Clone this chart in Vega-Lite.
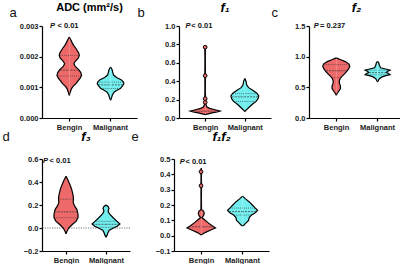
{
  "$schema": "https://vega.github.io/schema/vega-lite/v6.json",
  "background": "white",
  "padding": {"left": 2, "top": 2, "right": 0, "bottom": 0},
  "config": {
    "font": "Liberation Sans",
    "view": {"stroke": null},
    "axis": {"grid": false, "domainColor": "black", "domainWidth": 1.2, "tickColor": "black", "tickWidth": 1.2, "tickSize": 3, "labelFont": "Liberation Sans", "labelFontWeight": "bold", "labelFontSize": 7.5, "labelColor": "#222"},
    "axisX": {"labelAngle": 0, "labelPadding": 2, "title": null},
    "axisY": {"labelPadding": 1, "titleAngle": 0, "titleAlign": "left", "titleBaseline": "alphabetic", "titleFontSize": 13, "titleFontWeight": "normal", "titleColor": "#111", "titleFont": "Liberation Sans"},
    "title": {"font": "Liberation Sans", "fontSize": 11, "fontWeight": "bold", "anchor": "middle", "frame": "group", "offset": 0, "baseline": "alphabetic", "color": "black"},
    "area": {"orient": "horizontal"},
    "line": {"color": "black", "strokeWidth": 1.2}
  },
  "datasets": {
    "a": [
      {"kind": "v", "group": "Bengin", "value": 0.00264, "density": 0},
      {"kind": "v", "group": "Bengin", "value": 0.00255, "density": 0.1},
      {"kind": "v", "group": "Bengin", "value": 0.00245, "density": 0.2},
      {"kind": "v", "group": "Bengin", "value": 0.00237, "density": 0.29},
      {"kind": "v", "group": "Bengin", "value": 0.00225, "density": 0.47},
      {"kind": "v", "group": "Bengin", "value": 0.00212, "density": 0.63},
      {"kind": "v", "group": "Bengin", "value": 0.00204, "density": 0.67},
      {"kind": "v", "group": "Bengin", "value": 0.00195, "density": 0.6},
      {"kind": "v", "group": "Bengin", "value": 0.00185, "density": 0.4},
      {"kind": "v", "group": "Bengin", "value": 0.00177, "density": 0.31},
      {"kind": "v", "group": "Bengin", "value": 0.00168, "density": 0.4},
      {"kind": "v", "group": "Bengin", "value": 0.00158, "density": 0.63},
      {"kind": "v", "group": "Bengin", "value": 0.00148, "density": 0.77},
      {"kind": "v", "group": "Bengin", "value": 0.00139, "density": 0.82},
      {"kind": "v", "group": "Bengin", "value": 0.0013, "density": 0.73},
      {"kind": "v", "group": "Bengin", "value": 0.0012, "density": 0.57},
      {"kind": "v", "group": "Bengin", "value": 0.00112, "density": 0.45},
      {"kind": "v", "group": "Bengin", "value": 0.00104, "density": 0.27},
      {"kind": "v", "group": "Bengin", "value": 0.00096, "density": 0.15},
      {"kind": "v", "group": "Bengin", "value": 0.00085, "density": 0.07},
      {"kind": "v", "group": "Bengin", "value": 0.00074, "density": 0},
      {"kind": "q", "group": "Bengin", "value": 0.00204, "density": 0.62},
      {"kind": "m", "group": "Bengin", "value": 0.00156, "density": 0.62},
      {"kind": "q", "group": "Bengin", "value": 0.00137, "density": 0.78},
      {"kind": "v", "group": "Malignant", "value": 0.00166, "density": 0},
      {"kind": "v", "group": "Malignant", "value": 0.00158, "density": 0.1},
      {"kind": "v", "group": "Malignant", "value": 0.00148, "density": 0.15},
      {"kind": "v", "group": "Malignant", "value": 0.0014, "density": 0.2},
      {"kind": "v", "group": "Malignant", "value": 0.00132, "density": 0.4},
      {"kind": "v", "group": "Malignant", "value": 0.00125, "density": 0.7},
      {"kind": "v", "group": "Malignant", "value": 0.00118, "density": 0.85},
      {"kind": "v", "group": "Malignant", "value": 0.00112, "density": 0.89},
      {"kind": "v", "group": "Malignant", "value": 0.00105, "density": 0.8},
      {"kind": "v", "group": "Malignant", "value": 0.00096, "density": 0.65},
      {"kind": "v", "group": "Malignant", "value": 0.0009, "density": 0.4},
      {"kind": "v", "group": "Malignant", "value": 0.00085, "density": 0.25},
      {"kind": "v", "group": "Malignant", "value": 0.00075, "density": 0.12},
      {"kind": "v", "group": "Malignant", "value": 0.00065, "density": 0.06},
      {"kind": "v", "group": "Malignant", "value": 0.00058, "density": 0},
      {"kind": "q", "group": "Malignant", "value": 0.00117, "density": 0.82},
      {"kind": "m", "group": "Malignant", "value": 0.00108, "density": 0.82},
      {"kind": "q", "group": "Malignant", "value": 0.00096, "density": 0.62},
      {"kind": "t", "group": "Bengin", "value": 0.003, "label": "< 0.01"}
    ],
    "b": [
      {"kind": "v", "group": "Bengin", "value": 0.79, "density": 0},
      {"kind": "v", "group": "Bengin", "value": 0.77, "density": 0.02},
      {"kind": "v", "group": "Bengin", "value": 0.6, "density": 0.01},
      {"kind": "v", "group": "Bengin", "value": 0.46, "density": 0.02},
      {"kind": "v", "group": "Bengin", "value": 0.3, "density": 0.01},
      {"kind": "v", "group": "Bengin", "value": 0.21, "density": 0.03},
      {"kind": "v", "group": "Bengin", "value": 0.17, "density": 0.03},
      {"kind": "v", "group": "Bengin", "value": 0.14, "density": 0.06},
      {"kind": "v", "group": "Bengin", "value": 0.12, "density": 0.12},
      {"kind": "v", "group": "Bengin", "value": 0.105, "density": 0.3},
      {"kind": "v", "group": "Bengin", "value": 0.09, "density": 0.65},
      {"kind": "v", "group": "Bengin", "value": 0.075, "density": 1.0},
      {"kind": "v", "group": "Bengin", "value": 0.065, "density": 0.8},
      {"kind": "v", "group": "Bengin", "value": 0.055, "density": 0.45},
      {"kind": "v", "group": "Bengin", "value": 0.045, "density": 0.2},
      {"kind": "v", "group": "Bengin", "value": 0.036, "density": 0},
      {"kind": "p", "group": "Bengin", "value": 0.77},
      {"kind": "p", "group": "Bengin", "value": 0.46},
      {"kind": "p", "group": "Bengin", "value": 0.21},
      {"kind": "p", "group": "Bengin", "value": 0.17},
      {"kind": "m", "group": "Bengin", "value": 0.074, "density": 0.9},
      {"kind": "v", "group": "Malignant", "value": 0.43, "density": 0},
      {"kind": "v", "group": "Malignant", "value": 0.4, "density": 0.08},
      {"kind": "v", "group": "Malignant", "value": 0.36, "density": 0.12},
      {"kind": "v", "group": "Malignant", "value": 0.33, "density": 0.25},
      {"kind": "v", "group": "Malignant", "value": 0.3, "density": 0.55},
      {"kind": "v", "group": "Malignant", "value": 0.27, "density": 0.8},
      {"kind": "v", "group": "Malignant", "value": 0.24, "density": 0.93},
      {"kind": "v", "group": "Malignant", "value": 0.21, "density": 0.88},
      {"kind": "v", "group": "Malignant", "value": 0.18, "density": 0.75},
      {"kind": "v", "group": "Malignant", "value": 0.15, "density": 0.5},
      {"kind": "v", "group": "Malignant", "value": 0.12, "density": 0.3},
      {"kind": "v", "group": "Malignant", "value": 0.1, "density": 0.18},
      {"kind": "v", "group": "Malignant", "value": 0.08, "density": 0.05},
      {"kind": "v", "group": "Malignant", "value": 0.07, "density": 0},
      {"kind": "q", "group": "Malignant", "value": 0.265, "density": 0.78},
      {"kind": "m", "group": "Malignant", "value": 0.23, "density": 0.88},
      {"kind": "q", "group": "Malignant", "value": 0.18, "density": 0.72},
      {"kind": "t", "group": "Bengin", "value": 1.0, "label": "< 0.01"}
    ],
    "c": [
      {"kind": "v", "group": "Bengin", "value": 0.98, "density": 0},
      {"kind": "v", "group": "Bengin", "value": 0.95, "density": 0.3},
      {"kind": "v", "group": "Bengin", "value": 0.92, "density": 0.6},
      {"kind": "v", "group": "Bengin", "value": 0.88, "density": 0.85},
      {"kind": "v", "group": "Bengin", "value": 0.84, "density": 0.9},
      {"kind": "v", "group": "Bengin", "value": 0.8, "density": 0.82},
      {"kind": "v", "group": "Bengin", "value": 0.76, "density": 0.7},
      {"kind": "v", "group": "Bengin", "value": 0.72, "density": 0.55},
      {"kind": "v", "group": "Bengin", "value": 0.68, "density": 0.38},
      {"kind": "v", "group": "Bengin", "value": 0.64, "density": 0.25},
      {"kind": "v", "group": "Bengin", "value": 0.6, "density": 0.2},
      {"kind": "v", "group": "Bengin", "value": 0.56, "density": 0.22},
      {"kind": "v", "group": "Bengin", "value": 0.52, "density": 0.28},
      {"kind": "v", "group": "Bengin", "value": 0.48, "density": 0.28},
      {"kind": "v", "group": "Bengin", "value": 0.44, "density": 0.18},
      {"kind": "v", "group": "Bengin", "value": 0.4, "density": 0.06},
      {"kind": "v", "group": "Bengin", "value": 0.37, "density": 0},
      {"kind": "q", "group": "Bengin", "value": 0.87, "density": 0.84},
      {"kind": "m", "group": "Bengin", "value": 0.77, "density": 0.68},
      {"kind": "q", "group": "Bengin", "value": 0.66, "density": 0.3},
      {"kind": "v", "group": "Malignant", "value": 0.925, "density": 0},
      {"kind": "v", "group": "Malignant", "value": 0.9, "density": 0.08},
      {"kind": "v", "group": "Malignant", "value": 0.86, "density": 0.12},
      {"kind": "v", "group": "Malignant", "value": 0.82, "density": 0.2},
      {"kind": "v", "group": "Malignant", "value": 0.795, "density": 0.6},
      {"kind": "v", "group": "Malignant", "value": 0.78, "density": 0.83},
      {"kind": "v", "group": "Malignant", "value": 0.76, "density": 0.65},
      {"kind": "v", "group": "Malignant", "value": 0.74, "density": 0.6},
      {"kind": "v", "group": "Malignant", "value": 0.72, "density": 0.75},
      {"kind": "v", "group": "Malignant", "value": 0.705, "density": 0.83},
      {"kind": "v", "group": "Malignant", "value": 0.69, "density": 0.55},
      {"kind": "v", "group": "Malignant", "value": 0.67, "density": 0.3},
      {"kind": "v", "group": "Malignant", "value": 0.64, "density": 0.12},
      {"kind": "v", "group": "Malignant", "value": 0.61, "density": 0.05},
      {"kind": "v", "group": "Malignant", "value": 0.59, "density": 0},
      {"kind": "q", "group": "Malignant", "value": 0.78, "density": 0.8},
      {"kind": "m", "group": "Malignant", "value": 0.74, "density": 0.58},
      {"kind": "q", "group": "Malignant", "value": 0.705, "density": 0.8},
      {"kind": "t", "group": "Bengin", "value": 1.5, "label": "= 0.237"}
    ],
    "d": [
      {"kind": "v", "group": "Bengin", "value": 0.45, "density": 0},
      {"kind": "v", "group": "Bengin", "value": 0.42, "density": 0.12},
      {"kind": "v", "group": "Bengin", "value": 0.38, "density": 0.25},
      {"kind": "v", "group": "Bengin", "value": 0.34, "density": 0.37},
      {"kind": "v", "group": "Bengin", "value": 0.3, "density": 0.45},
      {"kind": "v", "group": "Bengin", "value": 0.26, "density": 0.5},
      {"kind": "v", "group": "Bengin", "value": 0.22, "density": 0.48},
      {"kind": "v", "group": "Bengin", "value": 0.19, "density": 0.58},
      {"kind": "v", "group": "Bengin", "value": 0.16, "density": 0.73},
      {"kind": "v", "group": "Bengin", "value": 0.12, "density": 0.8},
      {"kind": "v", "group": "Bengin", "value": 0.09, "density": 0.8},
      {"kind": "v", "group": "Bengin", "value": 0.06, "density": 0.68},
      {"kind": "v", "group": "Bengin", "value": 0.03, "density": 0.42},
      {"kind": "v", "group": "Bengin", "value": 0.0, "density": 0.18},
      {"kind": "v", "group": "Bengin", "value": -0.03, "density": 0.06},
      {"kind": "v", "group": "Bengin", "value": -0.05, "density": 0},
      {"kind": "q", "group": "Bengin", "value": 0.25, "density": 0.48},
      {"kind": "m", "group": "Bengin", "value": 0.14, "density": 0.75},
      {"kind": "q", "group": "Bengin", "value": 0.09, "density": 0.78},
      {"kind": "v", "group": "Malignant", "value": 0.2, "density": 0},
      {"kind": "v", "group": "Malignant", "value": 0.185, "density": 0.15},
      {"kind": "v", "group": "Malignant", "value": 0.17, "density": 0.2},
      {"kind": "v", "group": "Malignant", "value": 0.155, "density": 0.15},
      {"kind": "v", "group": "Malignant", "value": 0.14, "density": 0.15},
      {"kind": "v", "group": "Malignant", "value": 0.12, "density": 0.25},
      {"kind": "v", "group": "Malignant", "value": 0.1, "density": 0.4},
      {"kind": "v", "group": "Malignant", "value": 0.08, "density": 0.55},
      {"kind": "v", "group": "Malignant", "value": 0.06, "density": 0.72},
      {"kind": "v", "group": "Malignant", "value": 0.035, "density": 0.93},
      {"kind": "v", "group": "Malignant", "value": 0.015, "density": 0.75},
      {"kind": "v", "group": "Malignant", "value": 0.0, "density": 0.5},
      {"kind": "v", "group": "Malignant", "value": -0.02, "density": 0.22},
      {"kind": "v", "group": "Malignant", "value": -0.04, "density": 0.13},
      {"kind": "v", "group": "Malignant", "value": -0.06, "density": 0.08},
      {"kind": "v", "group": "Malignant", "value": -0.08, "density": 0},
      {"kind": "q", "group": "Malignant", "value": 0.058, "density": 0.7},
      {"kind": "m", "group": "Malignant", "value": 0.032, "density": 0.9},
      {"kind": "q", "group": "Malignant", "value": 0.006, "density": 0.62},
      {"kind": "t", "group": "Bengin", "value": 0.6, "label": "< 0.01"}
    ],
    "e": [
      {"kind": "v", "group": "Bengin", "value": 0.44, "density": 0},
      {"kind": "v", "group": "Bengin", "value": 0.42, "density": 0.02},
      {"kind": "v", "group": "Bengin", "value": 0.38, "density": 0.01},
      {"kind": "v", "group": "Bengin", "value": 0.33, "density": 0.02},
      {"kind": "v", "group": "Bengin", "value": 0.25, "density": 0.01},
      {"kind": "v", "group": "Bengin", "value": 0.17, "density": 0.02},
      {"kind": "v", "group": "Bengin", "value": 0.16, "density": 0.15},
      {"kind": "v", "group": "Bengin", "value": 0.145, "density": 0.2},
      {"kind": "v", "group": "Bengin", "value": 0.13, "density": 0.15},
      {"kind": "v", "group": "Bengin", "value": 0.118, "density": 0.04},
      {"kind": "v", "group": "Bengin", "value": 0.105, "density": 0.2},
      {"kind": "v", "group": "Bengin", "value": 0.085, "density": 0.45},
      {"kind": "v", "group": "Bengin", "value": 0.065, "density": 0.72},
      {"kind": "v", "group": "Bengin", "value": 0.05, "density": 0.95},
      {"kind": "v", "group": "Bengin", "value": 0.035, "density": 0.6},
      {"kind": "v", "group": "Bengin", "value": 0.02, "density": 0.25},
      {"kind": "v", "group": "Bengin", "value": 0.005, "density": 0},
      {"kind": "p", "group": "Bengin", "value": 0.417},
      {"kind": "p", "group": "Bengin", "value": 0.326},
      {"kind": "m", "group": "Bengin", "value": 0.058, "density": 0.82},
      {"kind": "v", "group": "Malignant", "value": 0.258, "density": 0},
      {"kind": "v", "group": "Malignant", "value": 0.24, "density": 0.2},
      {"kind": "v", "group": "Malignant", "value": 0.22, "density": 0.45},
      {"kind": "v", "group": "Malignant", "value": 0.2, "density": 0.65},
      {"kind": "v", "group": "Malignant", "value": 0.18, "density": 0.85},
      {"kind": "v", "group": "Malignant", "value": 0.165, "density": 1.0},
      {"kind": "v", "group": "Malignant", "value": 0.15, "density": 0.85},
      {"kind": "v", "group": "Malignant", "value": 0.135, "density": 0.6},
      {"kind": "v", "group": "Malignant", "value": 0.12, "density": 0.45},
      {"kind": "v", "group": "Malignant", "value": 0.1, "density": 0.4},
      {"kind": "v", "group": "Malignant", "value": 0.085, "density": 0.25},
      {"kind": "v", "group": "Malignant", "value": 0.07, "density": 0.1},
      {"kind": "v", "group": "Malignant", "value": 0.063, "density": 0},
      {"kind": "q", "group": "Malignant", "value": 0.18, "density": 0.83},
      {"kind": "m", "group": "Malignant", "value": 0.157, "density": 0.9},
      {"kind": "q", "group": "Malignant", "value": 0.134, "density": 0.55},
      {"kind": "t", "group": "Bengin", "value": 0.5, "label": "< 0.01"}
    ]
  },
  "vconcat": [
    {
      "spacing": 0,
      "hconcat": [
        {
          "width": 95, "height": 92,
          "data": {"name": "a"},
          "title": {"text": "ADC (mm²/s)", "dy": 11},
          "encoding": {"y": {"field": "value", "type": "quantitative", "scale": {"domain": [0, 0.003], "nice": false, "zero": false}, "axis": {"values": [0, 0.001, 0.002, 0.003], "format": ".3f", "title": "a", "titleX": -33, "titleY": -10}}},
          "layer": [
            {"transform": [{"filter": "datum.group === 'Bengin'"}], "encoding": {"x": {"field": "density", "type": "quantitative", "scale": {"domain": [-1.817, 4.516], "nice": false, "zero": false}, "axis": null}},
             "layer": [
              {"transform": [{"filter": "datum.kind === 'v'"}], "mark": {"type": "area", "color": "#EE6A6A"}, "encoding": {"x2": {"datum": 0}}},
              {"transform": [{"filter": "datum.kind === 'v'"}], "mark": "line", "encoding": {"order": {"field": "value", "type": "quantitative"}}},
              {"transform": [{"filter": "datum.kind === 'q'"}], "mark": {"type": "rule", "color": "#333", "strokeWidth": 0.6, "strokeDash": [1, 1]}, "encoding": {"x2": {"datum": 0}}},
              {"transform": [{"filter": "datum.kind === 'm'"}], "mark": {"type": "rule", "color": "#333", "strokeWidth": 0.7, "strokeDash": [2, 1]}, "encoding": {"x2": {"datum": 0}}}
             ]},
            {"transform": [{"filter": "datum.group === 'Bengin'"}], "encoding": {"x": {"field": "density", "type": "quantitative", "scale": {"domain": [-4.516, 1.817], "reverse": true, "nice": false, "zero": false}, "axis": null}},
             "layer": [
              {"transform": [{"filter": "datum.kind === 'v'"}], "mark": {"type": "area", "color": "#EE6A6A"}, "encoding": {"x2": {"datum": 0}}},
              {"transform": [{"filter": "datum.kind === 'v'"}], "mark": "line", "encoding": {"order": {"field": "value", "type": "quantitative"}}},
              {"transform": [{"filter": "datum.kind === 'q'"}], "mark": {"type": "rule", "color": "#333", "strokeWidth": 0.6, "strokeDash": [1, 1]}, "encoding": {"x2": {"datum": 0}}},
              {"transform": [{"filter": "datum.kind === 'm'"}], "mark": {"type": "rule", "color": "#333", "strokeWidth": 0.7, "strokeDash": [2, 1]}, "encoding": {"x2": {"datum": 0}}}
             ]},
            {"transform": [{"filter": "datum.group === 'Malignant'"}], "encoding": {"x": {"field": "density", "type": "quantitative", "scale": {"domain": [-4.571, 1.762], "nice": false, "zero": false}, "axis": null}},
             "layer": [
              {"transform": [{"filter": "datum.kind === 'v'"}], "mark": {"type": "area", "color": "#72EEEE"}, "encoding": {"x2": {"datum": 0}}},
              {"transform": [{"filter": "datum.kind === 'v'"}], "mark": "line", "encoding": {"order": {"field": "value", "type": "quantitative"}}},
              {"transform": [{"filter": "datum.kind === 'q'"}], "mark": {"type": "rule", "color": "#333", "strokeWidth": 0.6, "strokeDash": [1, 1]}, "encoding": {"x2": {"datum": 0}}},
              {"transform": [{"filter": "datum.kind === 'm'"}], "mark": {"type": "rule", "color": "#333", "strokeWidth": 0.7, "strokeDash": [2, 1]}, "encoding": {"x2": {"datum": 0}}}
             ]},
            {"transform": [{"filter": "datum.group === 'Malignant'"}], "encoding": {"x": {"field": "density", "type": "quantitative", "scale": {"domain": [-1.762, 4.571], "reverse": true, "nice": false, "zero": false}, "axis": null}},
             "layer": [
              {"transform": [{"filter": "datum.kind === 'v'"}], "mark": {"type": "area", "color": "#72EEEE"}, "encoding": {"x2": {"datum": 0}}},
              {"transform": [{"filter": "datum.kind === 'v'"}], "mark": "line", "encoding": {"order": {"field": "value", "type": "quantitative"}}},
              {"transform": [{"filter": "datum.kind === 'q'"}], "mark": {"type": "rule", "color": "#333", "strokeWidth": 0.6, "strokeDash": [1, 1]}, "encoding": {"x2": {"datum": 0}}},
              {"transform": [{"filter": "datum.kind === 'm'"}], "mark": {"type": "rule", "color": "#333", "strokeWidth": 0.7, "strokeDash": [2, 1]}, "encoding": {"x2": {"datum": 0}}}
             ]},
            {"encoding": {"x": {"field": "group", "type": "nominal", "scale": {"type": "point", "padding": 0.66, "domain": ["Bengin", "Malignant"]}}},
             "layer": [
              {"transform": [{"filter": "datum.kind === 't'"}], "mark": {"type": "text", "text": "P", "align": "left", "baseline": "middle", "dx": -19, "fontStyle": "italic", "fontWeight": "bold", "fontSize": 7.5, "color": "#111"}},
              {"transform": [{"filter": "datum.kind === 't'"}], "mark": {"type": "text", "align": "left", "baseline": "middle", "dx": -11.6, "fontWeight": "bold", "fontSize": 7.5, "color": "#111"}, "encoding": {"text": {"field": "label"}}}
             ]}
          ],
          "resolve": {"scale": {"x": "independent"}}
        },
        {
          "width": 92, "height": 92,
          "data": {"name": "b"},
          "title": {"text": "f₁", "fontStyle": "italic", "fontSize": 13, "dy": 13},
          "encoding": {"y": {"field": "value", "type": "quantitative", "scale": {"domain": [0, 1], "nice": false, "zero": false}, "axis": {"values": [0, 0.2, 0.4, 0.6, 0.8, 1.0], "format": ".1f", "title": "b", "titleX": -42, "titleY": -10}}},
          "layer": [
            {"transform": [{"filter": "datum.group === 'Bengin'"}], "encoding": {"x": {"field": "density", "type": "quantitative", "scale": {"domain": [-1.745, 4.388], "nice": false, "zero": false}, "axis": null}},
             "layer": [
              {"transform": [{"filter": "datum.kind === 'v'"}], "mark": {"type": "area", "color": "#EE6A6A"}, "encoding": {"x2": {"datum": 0}}},
              {"transform": [{"filter": "datum.kind === 'v'"}], "mark": "line", "encoding": {"order": {"field": "value", "type": "quantitative"}}},
              {"transform": [{"filter": "datum.kind === 'm'"}], "mark": {"type": "rule", "color": "#333", "strokeWidth": 0.7, "strokeDash": [2, 1]}, "encoding": {"x2": {"datum": 0}}}
             ]},
            {"transform": [{"filter": "datum.group === 'Bengin'"}], "encoding": {"x": {"field": "density", "type": "quantitative", "scale": {"domain": [-4.388, 1.745], "reverse": true, "nice": false, "zero": false}, "axis": null}},
             "layer": [
              {"transform": [{"filter": "datum.kind === 'v'"}], "mark": {"type": "area", "color": "#EE6A6A"}, "encoding": {"x2": {"datum": 0}}},
              {"transform": [{"filter": "datum.kind === 'v'"}], "mark": "line", "encoding": {"order": {"field": "value", "type": "quantitative"}}},
              {"transform": [{"filter": "datum.kind === 'm'"}], "mark": {"type": "rule", "color": "#333", "strokeWidth": 0.7, "strokeDash": [2, 1]}, "encoding": {"x2": {"datum": 0}}}
             ]},
            {"transform": [{"filter": "datum.group === 'Malignant'"}], "encoding": {"x": {"field": "density", "type": "quantitative", "scale": {"domain": [-4.389, 1.744], "nice": false, "zero": false}, "axis": null}},
             "layer": [
              {"transform": [{"filter": "datum.kind === 'v'"}], "mark": {"type": "area", "color": "#72EEEE"}, "encoding": {"x2": {"datum": 0}}},
              {"transform": [{"filter": "datum.kind === 'v'"}], "mark": "line", "encoding": {"order": {"field": "value", "type": "quantitative"}}},
              {"transform": [{"filter": "datum.kind === 'q'"}], "mark": {"type": "rule", "color": "#333", "strokeWidth": 0.6, "strokeDash": [1, 1]}, "encoding": {"x2": {"datum": 0}}},
              {"transform": [{"filter": "datum.kind === 'm'"}], "mark": {"type": "rule", "color": "#333", "strokeWidth": 0.7, "strokeDash": [2, 1]}, "encoding": {"x2": {"datum": 0}}}
             ]},
            {"transform": [{"filter": "datum.group === 'Malignant'"}], "encoding": {"x": {"field": "density", "type": "quantitative", "scale": {"domain": [-1.744, 4.389], "reverse": true, "nice": false, "zero": false}, "axis": null}},
             "layer": [
              {"transform": [{"filter": "datum.kind === 'v'"}], "mark": {"type": "area", "color": "#72EEEE"}, "encoding": {"x2": {"datum": 0}}},
              {"transform": [{"filter": "datum.kind === 'v'"}], "mark": "line", "encoding": {"order": {"field": "value", "type": "quantitative"}}},
              {"transform": [{"filter": "datum.kind === 'q'"}], "mark": {"type": "rule", "color": "#333", "strokeWidth": 0.6, "strokeDash": [1, 1]}, "encoding": {"x2": {"datum": 0}}},
              {"transform": [{"filter": "datum.kind === 'm'"}], "mark": {"type": "rule", "color": "#333", "strokeWidth": 0.7, "strokeDash": [2, 1]}, "encoding": {"x2": {"datum": 0}}}
             ]},
            {"encoding": {"x": {"field": "group", "type": "nominal", "scale": {"type": "point", "padding": 0.66, "domain": ["Bengin", "Malignant"]}}},
             "layer": [
              {"transform": [{"filter": "datum.kind === 'p'"}], "mark": {"type": "point", "shape": "circle", "filled": true, "fill": "#EE6A6A", "stroke": "black", "strokeWidth": 1, "size": 14, "opacity": 1}},
              {"transform": [{"filter": "datum.kind === 't'"}], "mark": {"type": "text", "text": "P", "align": "left", "baseline": "middle", "dx": -19.6, "fontStyle": "italic", "fontWeight": "bold", "fontSize": 7.5, "color": "#111"}},
              {"transform": [{"filter": "datum.kind === 't'"}], "mark": {"type": "text", "align": "left", "baseline": "middle", "dx": -13.9, "fontWeight": "bold", "fontSize": 7.5, "color": "#111"}, "encoding": {"text": {"field": "label"}}}
             ]}
          ],
          "resolve": {"scale": {"x": "independent"}}
        },
        {
          "width": 95, "height": 92,
          "data": {"name": "c"},
          "title": {"text": "f₂", "fontStyle": "italic", "fontSize": 13, "dy": 13},
          "encoding": {"y": {"field": "value", "type": "quantitative", "scale": {"domain": [0, 1.5], "nice": false, "zero": false}, "axis": {"values": [0, 0.5, 1.0, 1.5], "format": ".1f", "title": "c", "titleX": -38, "titleY": -10}}},
          "layer": [
            {"transform": [{"filter": "datum.group === 'Bengin'"}], "encoding": {"x": {"field": "density", "type": "quantitative", "scale": {"domain": [-1.817, 4.516], "nice": false, "zero": false}, "axis": null}},
             "layer": [
              {"transform": [{"filter": "datum.kind === 'v'"}], "mark": {"type": "area", "color": "#EE6A6A"}, "encoding": {"x2": {"datum": 0}}},
              {"transform": [{"filter": "datum.kind === 'v'"}], "mark": "line", "encoding": {"order": {"field": "value", "type": "quantitative"}}},
              {"transform": [{"filter": "datum.kind === 'q'"}], "mark": {"type": "rule", "color": "#333", "strokeWidth": 0.6, "strokeDash": [1, 1]}, "encoding": {"x2": {"datum": 0}}},
              {"transform": [{"filter": "datum.kind === 'm'"}], "mark": {"type": "rule", "color": "#333", "strokeWidth": 0.7, "strokeDash": [2, 1]}, "encoding": {"x2": {"datum": 0}}}
             ]},
            {"transform": [{"filter": "datum.group === 'Bengin'"}], "encoding": {"x": {"field": "density", "type": "quantitative", "scale": {"domain": [-4.516, 1.817], "reverse": true, "nice": false, "zero": false}, "axis": null}},
             "layer": [
              {"transform": [{"filter": "datum.kind === 'v'"}], "mark": {"type": "area", "color": "#EE6A6A"}, "encoding": {"x2": {"datum": 0}}},
              {"transform": [{"filter": "datum.kind === 'v'"}], "mark": "line", "encoding": {"order": {"field": "value", "type": "quantitative"}}},
              {"transform": [{"filter": "datum.kind === 'q'"}], "mark": {"type": "rule", "color": "#333", "strokeWidth": 0.6, "strokeDash": [1, 1]}, "encoding": {"x2": {"datum": 0}}},
              {"transform": [{"filter": "datum.kind === 'm'"}], "mark": {"type": "rule", "color": "#333", "strokeWidth": 0.7, "strokeDash": [2, 1]}, "encoding": {"x2": {"datum": 0}}}
             ]},
            {"transform": [{"filter": "datum.group === 'Malignant'"}], "encoding": {"x": {"field": "density", "type": "quantitative", "scale": {"domain": [-4.571, 1.762], "nice": false, "zero": false}, "axis": null}},
             "layer": [
              {"transform": [{"filter": "datum.kind === 'v'"}], "mark": {"type": "area", "color": "#72EEEE"}, "encoding": {"x2": {"datum": 0}}},
              {"transform": [{"filter": "datum.kind === 'v'"}], "mark": "line", "encoding": {"order": {"field": "value", "type": "quantitative"}}},
              {"transform": [{"filter": "datum.kind === 'q'"}], "mark": {"type": "rule", "color": "#333", "strokeWidth": 0.6, "strokeDash": [1, 1]}, "encoding": {"x2": {"datum": 0}}},
              {"transform": [{"filter": "datum.kind === 'm'"}], "mark": {"type": "rule", "color": "#333", "strokeWidth": 0.7, "strokeDash": [2, 1]}, "encoding": {"x2": {"datum": 0}}}
             ]},
            {"transform": [{"filter": "datum.group === 'Malignant'"}], "encoding": {"x": {"field": "density", "type": "quantitative", "scale": {"domain": [-1.762, 4.571], "reverse": true, "nice": false, "zero": false}, "axis": null}},
             "layer": [
              {"transform": [{"filter": "datum.kind === 'v'"}], "mark": {"type": "area", "color": "#72EEEE"}, "encoding": {"x2": {"datum": 0}}},
              {"transform": [{"filter": "datum.kind === 'v'"}], "mark": "line", "encoding": {"order": {"field": "value", "type": "quantitative"}}},
              {"transform": [{"filter": "datum.kind === 'q'"}], "mark": {"type": "rule", "color": "#333", "strokeWidth": 0.6, "strokeDash": [1, 1]}, "encoding": {"x2": {"datum": 0}}},
              {"transform": [{"filter": "datum.kind === 'm'"}], "mark": {"type": "rule", "color": "#333", "strokeWidth": 0.7, "strokeDash": [2, 1]}, "encoding": {"x2": {"datum": 0}}}
             ]},
            {"encoding": {"x": {"field": "group", "type": "nominal", "scale": {"type": "point", "padding": 0.66, "domain": ["Bengin", "Malignant"]}}},
             "layer": [
              {"transform": [{"filter": "datum.kind === 't'"}], "mark": {"type": "text", "text": "P", "align": "left", "baseline": "middle", "dx": -22.3, "fontStyle": "italic", "fontWeight": "bold", "fontSize": 7.5, "color": "#111"}},
              {"transform": [{"filter": "datum.kind === 't'"}], "mark": {"type": "text", "align": "left", "baseline": "middle", "dx": -16, "fontWeight": "bold", "fontSize": 7.5, "color": "#111"}, "encoding": {"text": {"field": "label"}}}
             ]}
          ],
          "resolve": {"scale": {"x": "independent"}}
        }
      ]
    },
    {
      "spacing": 0,
      "hconcat": [
        {
          "width": 88, "height": 92,
          "data": {"name": "d"},
          "title": {"text": "f₃", "fontStyle": "italic", "fontSize": 13, "dy": 18},
          "encoding": {"y": {"field": "value", "type": "quantitative", "scale": {"domain": [-0.2, 0.6], "nice": false, "zero": false}, "axis": {"values": [-0.2, 0, 0.2, 0.4, 0.6], "format": ".1f", "title": "d", "titleX": -40, "titleY": -19}}},
          "layer": [
            {"transform": [{"filter": "datum.kind === 't'"}], "mark": {"type": "rule", "color": "#555", "strokeWidth": 0.8, "strokeDash": [1.2, 1.2]}, "encoding": {"y": {"datum": 0, "type": "quantitative"}}},
            {"transform": [{"filter": "datum.group === 'Bengin'"}], "encoding": {"x": {"field": "density", "type": "quantitative", "scale": {"domain": [-1.6, 4.267], "nice": false, "zero": false}, "axis": null}},
             "layer": [
              {"transform": [{"filter": "datum.kind === 'v'"}], "mark": {"type": "area", "color": "#EE6A6A"}, "encoding": {"x2": {"datum": 0}}},
              {"transform": [{"filter": "datum.kind === 'v'"}], "mark": "line", "encoding": {"order": {"field": "value", "type": "quantitative"}}},
              {"transform": [{"filter": "datum.kind === 'q'"}], "mark": {"type": "rule", "color": "#333", "strokeWidth": 0.6, "strokeDash": [1, 1]}, "encoding": {"x2": {"datum": 0}}},
              {"transform": [{"filter": "datum.kind === 'm'"}], "mark": {"type": "rule", "color": "#333", "strokeWidth": 0.7, "strokeDash": [2, 1]}, "encoding": {"x2": {"datum": 0}}}
             ]},
            {"transform": [{"filter": "datum.group === 'Bengin'"}], "encoding": {"x": {"field": "density", "type": "quantitative", "scale": {"domain": [-4.267, 1.6], "reverse": true, "nice": false, "zero": false}, "axis": null}},
             "layer": [
              {"transform": [{"filter": "datum.kind === 'v'"}], "mark": {"type": "area", "color": "#EE6A6A"}, "encoding": {"x2": {"datum": 0}}},
              {"transform": [{"filter": "datum.kind === 'v'"}], "mark": "line", "encoding": {"order": {"field": "value", "type": "quantitative"}}},
              {"transform": [{"filter": "datum.kind === 'q'"}], "mark": {"type": "rule", "color": "#333", "strokeWidth": 0.6, "strokeDash": [1, 1]}, "encoding": {"x2": {"datum": 0}}},
              {"transform": [{"filter": "datum.kind === 'm'"}], "mark": {"type": "rule", "color": "#333", "strokeWidth": 0.7, "strokeDash": [2, 1]}, "encoding": {"x2": {"datum": 0}}}
             ]},
            {"transform": [{"filter": "datum.group === 'Malignant'"}], "encoding": {"x": {"field": "density", "type": "quantitative", "scale": {"domain": [-4.267, 1.6], "nice": false, "zero": false}, "axis": null}},
             "layer": [
              {"transform": [{"filter": "datum.kind === 'v'"}], "mark": {"type": "area", "color": "#72EEEE"}, "encoding": {"x2": {"datum": 0}}},
              {"transform": [{"filter": "datum.kind === 'v'"}], "mark": "line", "encoding": {"order": {"field": "value", "type": "quantitative"}}},
              {"transform": [{"filter": "datum.kind === 'q'"}], "mark": {"type": "rule", "color": "#333", "strokeWidth": 0.6, "strokeDash": [1, 1]}, "encoding": {"x2": {"datum": 0}}},
              {"transform": [{"filter": "datum.kind === 'm'"}], "mark": {"type": "rule", "color": "#333", "strokeWidth": 0.7, "strokeDash": [2, 1]}, "encoding": {"x2": {"datum": 0}}}
             ]},
            {"transform": [{"filter": "datum.group === 'Malignant'"}], "encoding": {"x": {"field": "density", "type": "quantitative", "scale": {"domain": [-1.6, 4.267], "reverse": true, "nice": false, "zero": false}, "axis": null}},
             "layer": [
              {"transform": [{"filter": "datum.kind === 'v'"}], "mark": {"type": "area", "color": "#72EEEE"}, "encoding": {"x2": {"datum": 0}}},
              {"transform": [{"filter": "datum.kind === 'v'"}], "mark": "line", "encoding": {"order": {"field": "value", "type": "quantitative"}}},
              {"transform": [{"filter": "datum.kind === 'q'"}], "mark": {"type": "rule", "color": "#333", "strokeWidth": 0.6, "strokeDash": [1, 1]}, "encoding": {"x2": {"datum": 0}}},
              {"transform": [{"filter": "datum.kind === 'm'"}], "mark": {"type": "rule", "color": "#333", "strokeWidth": 0.7, "strokeDash": [2, 1]}, "encoding": {"x2": {"datum": 0}}}
             ]},
            {"encoding": {"x": {"field": "group", "type": "nominal", "scale": {"type": "point", "padding": 0.6, "domain": ["Bengin", "Malignant"]}}},
             "layer": [
              {"transform": [{"filter": "datum.kind === 't'"}], "mark": {"type": "text", "text": "P", "align": "left", "baseline": "middle", "dx": -23, "dy": 2, "fontStyle": "italic", "fontWeight": "bold", "fontSize": 7.5, "color": "#111"}},
              {"transform": [{"filter": "datum.kind === 't'"}], "mark": {"type": "text", "align": "left", "baseline": "middle", "dx": -16.4, "dy": 2, "fontWeight": "bold", "fontSize": 7.5, "color": "#111"}, "encoding": {"text": {"field": "label"}}}
             ]}
          ],
          "resolve": {"scale": {"x": "independent"}}
        },
        {
          "width": 95, "height": 92,
          "data": {"name": "e"},
          "title": {"text": "f₁f₂", "fontStyle": "italic", "fontSize": 13, "dy": 18},
          "encoding": {"y": {"field": "value", "type": "quantitative", "scale": {"domain": [-0.1, 0.5], "nice": false, "zero": false}, "axis": {"values": [-0.1, 0, 0.1, 0.2, 0.3, 0.4, 0.5], "format": ".1f", "title": "e", "titleX": -43, "titleY": -19}}},
          "layer": [
            {"transform": [{"filter": "datum.group === 'Bengin'"}], "encoding": {"x": {"field": "density", "type": "quantitative", "scale": {"domain": [-1.817, 4.516], "nice": false, "zero": false}, "axis": null}},
             "layer": [
              {"transform": [{"filter": "datum.kind === 'v'"}], "mark": {"type": "area", "color": "#EE6A6A"}, "encoding": {"x2": {"datum": 0}}},
              {"transform": [{"filter": "datum.kind === 'v'"}], "mark": "line", "encoding": {"order": {"field": "value", "type": "quantitative"}}},
              {"transform": [{"filter": "datum.kind === 'm'"}], "mark": {"type": "rule", "color": "#333", "strokeWidth": 0.7, "strokeDash": [2, 1]}, "encoding": {"x2": {"datum": 0}}}
             ]},
            {"transform": [{"filter": "datum.group === 'Bengin'"}], "encoding": {"x": {"field": "density", "type": "quantitative", "scale": {"domain": [-4.516, 1.817], "reverse": true, "nice": false, "zero": false}, "axis": null}},
             "layer": [
              {"transform": [{"filter": "datum.kind === 'v'"}], "mark": {"type": "area", "color": "#EE6A6A"}, "encoding": {"x2": {"datum": 0}}},
              {"transform": [{"filter": "datum.kind === 'v'"}], "mark": "line", "encoding": {"order": {"field": "value", "type": "quantitative"}}},
              {"transform": [{"filter": "datum.kind === 'm'"}], "mark": {"type": "rule", "color": "#333", "strokeWidth": 0.7, "strokeDash": [2, 1]}, "encoding": {"x2": {"datum": 0}}}
             ]},
            {"transform": [{"filter": "datum.group === 'Malignant'"}], "encoding": {"x": {"field": "density", "type": "quantitative", "scale": {"domain": [-4.571, 1.762], "nice": false, "zero": false}, "axis": null}},
             "layer": [
              {"transform": [{"filter": "datum.kind === 'v'"}], "mark": {"type": "area", "color": "#72EEEE"}, "encoding": {"x2": {"datum": 0}}},
              {"transform": [{"filter": "datum.kind === 'v'"}], "mark": "line", "encoding": {"order": {"field": "value", "type": "quantitative"}}},
              {"transform": [{"filter": "datum.kind === 'q'"}], "mark": {"type": "rule", "color": "#333", "strokeWidth": 0.6, "strokeDash": [1, 1]}, "encoding": {"x2": {"datum": 0}}},
              {"transform": [{"filter": "datum.kind === 'm'"}], "mark": {"type": "rule", "color": "#333", "strokeWidth": 0.7, "strokeDash": [2, 1]}, "encoding": {"x2": {"datum": 0}}}
             ]},
            {"transform": [{"filter": "datum.group === 'Malignant'"}], "encoding": {"x": {"field": "density", "type": "quantitative", "scale": {"domain": [-1.762, 4.571], "reverse": true, "nice": false, "zero": false}, "axis": null}},
             "layer": [
              {"transform": [{"filter": "datum.kind === 'v'"}], "mark": {"type": "area", "color": "#72EEEE"}, "encoding": {"x2": {"datum": 0}}},
              {"transform": [{"filter": "datum.kind === 'v'"}], "mark": "line", "encoding": {"order": {"field": "value", "type": "quantitative"}}},
              {"transform": [{"filter": "datum.kind === 'q'"}], "mark": {"type": "rule", "color": "#333", "strokeWidth": 0.6, "strokeDash": [1, 1]}, "encoding": {"x2": {"datum": 0}}},
              {"transform": [{"filter": "datum.kind === 'm'"}], "mark": {"type": "rule", "color": "#333", "strokeWidth": 0.7, "strokeDash": [2, 1]}, "encoding": {"x2": {"datum": 0}}}
             ]},
            {"encoding": {"x": {"field": "group", "type": "nominal", "scale": {"type": "point", "padding": 0.66, "domain": ["Bengin", "Malignant"]}}},
             "layer": [
              {"transform": [{"filter": "datum.kind === 'p'"}], "mark": {"type": "point", "shape": "circle", "filled": true, "fill": "#EE6A6A", "stroke": "black", "strokeWidth": 1, "size": 14, "opacity": 1}},
              {"transform": [{"filter": "datum.kind === 't'"}], "mark": {"type": "text", "text": "P", "align": "left", "baseline": "middle", "dx": -21.3, "dy": 2.5, "fontStyle": "italic", "fontWeight": "bold", "fontSize": 7.5, "color": "#111"}},
              {"transform": [{"filter": "datum.kind === 't'"}], "mark": {"type": "text", "align": "left", "baseline": "middle", "dx": -15.6, "dy": 2.5, "fontWeight": "bold", "fontSize": 7.5, "color": "#111"}, "encoding": {"text": {"field": "label"}}}
             ]}
          ],
          "resolve": {"scale": {"x": "independent"}}
        }
      ]
    }
  ],
  "spacing": -1
}
